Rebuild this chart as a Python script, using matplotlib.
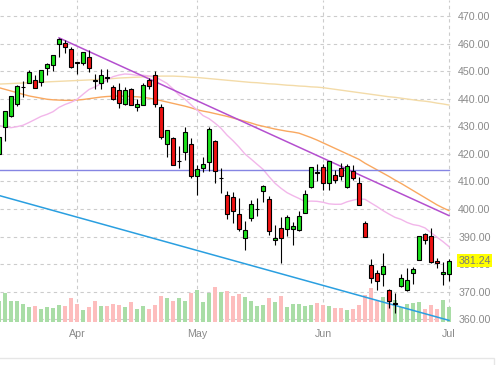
import numpy as np
import pandas as pd
import matplotlib
matplotlib.use("Agg")
import matplotlib.pyplot as plt
from matplotlib.patches import Rectangle

plt.rcParams["font.family"] = ["Liberation Sans", "DejaVu Sans"]

# trading days shown (Mar 15 - Jul 1)
holidays = ["2022-04-15", "2022-05-30", "2022-06-20"]
days = pd.bdate_range("2022-03-15", "2022-07-01")
days = days[~days.isin(pd.to_datetime(holidays))]

opens = [419.77, 429.89, 433.59, 438.00, 444.34, 445.86, 446.91, 445.94, 451.16, 452.06, 460.02, 460.34, 457.89,
         453.31, 453.13, 455.22, 446.89, 445.59, 447.97, 444.11, 443.08, 438.03, 443.55, 436.81, 437.86, 446.92,
         448.54, 436.91, 423.67, 425.83, 417.24, 420.56, 423.59,
         412.07, 415.01, 417.08, 424.55, 411.10, 405.10, 404.49, 398.07, 389.37, 396.71, 399.98, 406.53, 403.50,
         388.62, 393.25, 392.83, 392.56, 392.31, 398.67, 407.91, 413.55,
         415.17, 409.42, 412.40, 414.78, 408.10, 413.93, 409.34, 394.88, 379.85, 376.85, 376.51, 370.51, 365.51,
         371.89, 370.62, 376.64, 381.40, 391.05, 390.23, 381.23, 376.24,
         376.56]
highs = [426.84, 435.68, 441.07, 444.86, 446.46, 450.58, 448.49, 450.50, 452.98, 455.91, 462.07, 461.20, 458.76,
         453.46, 456.91, 457.83, 448.93, 450.69, 450.63, 445.00, 445.75, 444.11, 443.73, 439.75, 445.80, 447.57,
         450.01, 438.08, 428.69, 426.04, 422.92, 429.64, 425.87,
         415.92, 418.93, 429.66, 425.00, 414.80, 406.41, 406.08, 404.04, 395.80, 403.18, 403.97, 408.57, 404.80,
         394.14, 397.03, 397.73, 395.15, 399.45, 407.04, 415.38, 416.46,
         416.24, 417.44, 414.04, 416.61, 416.22, 415.82, 411.74, 395.78, 381.81, 377.94, 383.90, 371.00, 369.38,
         376.53, 378.72, 378.83, 390.09, 391.36, 393.16, 382.27, 380.66,
         381.70]
lows = [418.42, 424.80, 433.19, 437.22, 440.68, 445.86, 443.71, 444.76, 448.43, 450.06, 454.99, 456.47, 451.16,
        449.14, 452.26, 449.82, 443.47, 443.53, 445.94, 439.39, 436.65, 437.84, 437.68, 435.61, 437.68, 443.48,
        437.10, 425.44, 418.84, 416.07, 415.01, 417.60, 411.21,
        405.02, 413.36, 413.71, 409.44, 405.73, 396.50, 394.82, 391.96, 385.15, 395.61, 397.60, 402.58, 390.55,
        387.11, 380.54, 390.38, 386.96, 391.89, 398.45, 407.70, 410.03,
        406.93, 407.04, 409.51, 410.55, 407.61, 410.38, 401.44, 389.75, 373.30, 370.59, 372.12, 364.08, 362.17,
        371.81, 370.18, 372.89, 381.37, 387.44, 380.53, 378.42, 372.56,
        373.80]
closes = [426.17, 435.62, 441.07, 444.52, 444.39, 449.59, 443.80, 450.49, 452.69, 455.91, 461.55, 458.70, 451.64,
          452.92, 456.80, 451.03, 446.52, 448.77, 447.57, 439.92, 438.29, 443.31, 437.79, 437.97, 445.04, 444.71,
          438.06, 426.04, 428.51, 416.10, 417.27, 427.81, 412.00,
          414.48, 416.38, 429.06, 413.81, 411.34, 398.17, 399.09, 392.75, 392.34, 401.72, 400.09, 408.32, 391.86,
          389.46, 389.63, 396.92, 393.89, 397.37, 405.31, 415.26, 412.93,
          409.59, 417.39, 410.54, 411.79, 415.74, 411.22, 401.44, 389.80, 375.00, 373.87, 379.20, 366.65, 365.86,
          375.07, 374.39, 378.06, 390.08, 388.59, 380.65, 380.34, 377.25,
          381.24]
# volume in millions
volumes = [105, 145, 103, 106, 89, 75, 79, 64, 76, 68, 86, 80, 122,
           90, 60, 74, 107, 78, 79, 92, 87, 74, 99, 66, 78, 67, 85, 132, 120, 104, 122, 105, 146,
           158, 100, 144, 173, 152, 156, 132, 142, 125, 104, 79, 83, 118, 98, 131, 76, 91, 92, 82, 85, 96,
           87, 80, 72, 68, 59, 64, 86, 133, 170, 105, 126, 134, 111, 77, 90, 96, 98, 66, 83, 66, 112,
           75]

ma20 = [430.29, 429.77, 429.49, 429.86, 430.37, 431.37, 432.46, 433.57, 434.32, 435.28, 436.86, 437.90, 438.70,
        439.74, 441.60, 443.34, 444.30, 445.46, 446.84, 447.98, 448.59, 448.97, 448.81, 448.48, 448.51, 448.27,
        447.98, 446.76, 445.55, 443.56, 441.35, 439.80, 437.82, 435.90, 433.88, 432.78, 431.14, 429.27, 426.80,
        424.76, 422.48, 419.93, 418.13, 416.24, 414.40, 411.76, 409.33, 407.51, 405.93, 404.82, 403.82, 402.70,
        402.86, 402.78, 402.44, 401.86, 401.70, 401.72, 402.60, 403.20, 403.64, 403.51, 402.18, 400.87, 399.41,
        398.15, 396.97, 396.24, 395.12, 394.33, 393.96, 393.13, 391.40, 389.77, 388.15, 386.35]
ma50 = [444.0, 443.4, 442.8, 442.2, 441.6, 441.0, 440.6, 440.2, 439.8, 439.6, 439.5, 439.4, 439.4,
        439.5, 439.7, 440.0, 440.3, 440.6, 440.8, 440.9, 441.0, 440.9, 440.8, 440.7, 440.5, 440.2,
        439.8, 439.3, 438.8, 438.3, 437.8, 437.3, 436.7, 436.0, 435.5, 435.1, 434.6, 434.1, 433.6,
        433.0, 432.4, 431.8, 431.2, 430.5, 430.0, 429.5, 429.0, 428.6, 428.2, 427.9, 427.5, 426.7,
        425.9, 425.0, 424.0, 423.0, 422.0, 421.0, 420.0, 419.0, 418.0, 416.6, 415.4, 414.2, 413.0,
        411.8, 410.5, 409.3, 408.0, 406.7, 405.4, 404.1, 402.8, 401.5, 400.4, 399.4]
ma200 = [445.3, 445.4, 445.5, 445.6, 445.7, 445.8, 445.9, 446.0, 446.1, 446.2, 446.3, 446.4, 446.5,
         446.6, 446.7, 446.8, 446.9, 447.1, 447.2, 447.3, 447.5, 447.6, 447.7, 447.8, 447.9, 448.0,
         448.1, 448.2, 448.2, 448.2, 448.1, 448.0, 447.8, 447.7, 447.5, 447.3, 447.1, 446.9, 446.7,
         446.5, 446.3, 446.1, 445.9, 445.8, 445.6, 445.4, 445.3, 445.1, 444.9, 444.8, 444.6, 444.5,
         444.3, 444.2, 444.0, 443.7, 443.4, 443.1, 442.8, 442.5, 442.2, 441.9, 441.6, 441.3, 441.0,
         440.7, 440.5, 440.2, 439.9, 439.6, 439.3, 439.1, 438.8, 438.4, 438.1, 437.7]

# drawn lines (day index, price)
resist_x, resist_y = [10, 75], [462.07, 397.6]
support_x, support_y = [0, 75], [404.9, 359.6]
hline_x, hline_y = [-1, 75], [414.1, 414.1]

y_ticks = list(range(360, 471, 10))
last_price = 381.24

o = np.array(opens)
c = np.array(closes)
x = np.arange(len(days))
up = c >= o

fig = plt.figure(figsize=(4.98, 3.65), dpi=100)
ax = fig.add_axes([0, 43 / 365, 452 / 498, 322 / 365])
ax.set_xlim(1 / 6, 75.5)
ax.set_ylim(359.01, 475.8)
ax.set_axisbelow(True)
ax.grid(True, color="#cccccc", linestyle=(0, (3, 3)), linewidth=0.8)
for s in ax.spines.values():
    s.set_visible(False)

# volume along the bottom, in axes fraction
vol_max = 1610.0
ax.bar(x, np.array(volumes) / vol_max, width=0.78, bottom=0,
       color=np.where(up, "#a9dda6", "#fdbdbd"), transform=ax.get_xaxis_transform(), zorder=1)

# moving averages
ax.plot(x, ma200, color="#f3dba8", lw=1.0, zorder=2)
ax.plot(x, ma50, color="#f9a860", lw=1.0, zorder=2)
ax.plot(x, ma20, color="#f2b6ea", lw=1.0, zorder=2)

ax.plot(hline_x, hline_y, color="#8585e3", lw=1.0, zorder=2)
ax.plot(resist_x, resist_y, color="#b44fcf", lw=1.1, zorder=2)
ax.plot(support_x, support_y, color="#2a9fe0", lw=1.1, zorder=2)

# candles
ax.vlines(x, lows, highs, color="black", lw=0.8, zorder=3)
ax.bar(x, np.abs(c - o), bottom=np.minimum(o, c), width=0.68,
       color=np.where(up, "#19e019", "#ee1111"), edgecolor="black", linewidth=0.8, zorder=4)

ax.yaxis.tick_right()
ax.set_yticks(y_ticks)
ax.set_yticklabels([f"{v:.2f}" for v in y_ticks])

month_idx = [i for i in range(1, len(days)) if days[i].month != days[i - 1].month]
ax.set_xticks(month_idx)
ax.set_xticklabels([days[i].strftime("%b") for i in month_idx])
ax.tick_params(length=0, labelsize=7.7, labelcolor="#8a8a8a")
ax.tick_params(axis="y", pad=4.5)
ax.tick_params(axis="x", pad=5)

ax.annotate(f"{last_price:.2f}", xy=(1, last_price), xycoords=("axes fraction", "data"),
            xytext=(4.7, 0), textcoords="offset points", va="center", ha="left",
            fontsize=7.7, color="#7a7a7a", zorder=10,
            bbox=dict(boxstyle="square,pad=0.12", fc="#ffff00", ec="none"))

fig.add_artist(Rectangle((-0.01, -0.05), 493.5 / 498 + 0.01, 0.05 + 7.5 / 365,
                         transform=fig.transFigure, fill=False, ec="#e6e6e6", lw=1.0))

fig.savefig("out.png", dpi=100)
